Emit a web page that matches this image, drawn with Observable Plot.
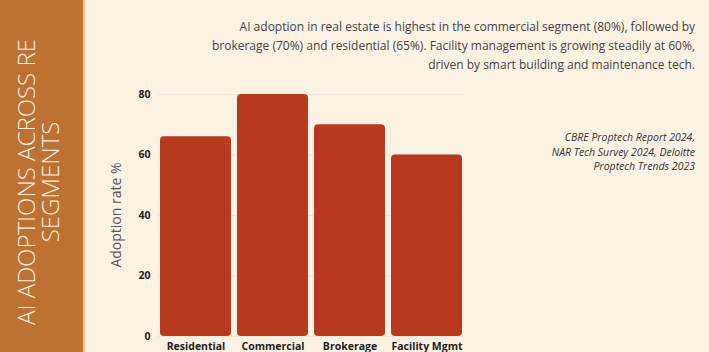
<!DOCTYPE html>
<html>
<head>
<meta charset="utf-8">
<script src="https://cdn.jsdelivr.net/npm/d3@7"></script>
<script src="https://cdn.jsdelivr.net/npm/@observablehq/plot@0.6"></script>
<style>
  html, body { margin: 0; padding: 0; }
  body { width: 709px; height: 352px; background: #fcf2e4; position: relative; overflow: hidden; font-family: "Open Sans", sans-serif; }
  #panel { position: absolute; left: 0; top: 0; width: 83px; height: 352px; background: #bd7234; border-right: 2px solid #e6c49a; }
  #title { position: absolute; left: 38px; top: 182px; transform: translate(-50%, -50%) rotate(-90deg); white-space: nowrap; text-align: center; color: #fbeee0; font-family: "Open Sans", sans-serif; font-weight: 300; font-size: 24px; line-height: 24px; }
  #subtitle { position: absolute; right: 14px; top: 17px; text-align: right; color: #444; font-size: 12px; line-height: 19px; }
  #source { position: absolute; right: 14px; top: 130px; text-align: right; color: #333; font-style: italic; font-size: 10.5px; line-height: 14.5px; }
  #chart { position: absolute; left: 0; top: 0; }
</style>
</head>
<body>
<div id="chart"></div>
<div id="panel"></div>
<div id="title">AI ADOPTIONS ACROSS RE<br>SEGMENTS</div>
<div id="subtitle">AI adoption in real estate is highest in the commercial segment (80%), followed by<br>brokerage (70%) and residential (65%). Facility management is growing steadily at 60%,<br>driven by smart building and maintenance tech.</div>
<div id="source">CBRE Proptech Report 2024,<br>NAR Tech Survey 2024, Deloitte<br>Proptech Trends 2023</div>
<script>
const segments = ["Residential", "Commercial", "Brokerage", "Facility Mgmt"];
const adoption = [66, 80, 70, 60];
const yTicks = [0, 20, 40, 60, 80];

const data = segments.map((s, i) => ({segment: s, value: adoption[i]}));

const chart = Plot.plot({
  width: 709,
  height: 352,
  marginLeft: 158,
  marginRight: 246,
  marginTop: 94,
  marginBottom: 16,
  style: {background: "transparent", fontFamily: "'Open Sans', sans-serif"},
  x: {domain: segments, paddingInner: 0.08, paddingOuter: 0, label: null},
  y: {domain: [0, 80], label: null},
  marks: [
    Plot.gridY(yTicks, {stroke: "#000", strokeOpacity: 0.05}),
    Plot.barY(data, {x: "segment", y: "value", fill: "#b73a1f", rx: 4}),
    Plot.axisY({ticks: yTicks, tickSize: 0, tickPadding: 8, fontWeight: "bold", fontSize: 10.5, color: "#222", label: null}),
    Plot.axisX({tickSize: 0, tickPadding: 6, fontWeight: "bold", fontSize: 10.5, color: "#222", label: null})
  ]
});
document.getElementById("chart").appendChild(chart);

// y axis label (real text, placed beside the axis)
const svg = d3.select(chart);
svg.append("text")
  .attr("transform", `translate(117, ${(94 + 336) / 2}) rotate(-90)`)
  .attr("text-anchor", "middle")
  .attr("dominant-baseline", "middle")
  .attr("fill", "#555")
  .style("font-size", "14px")
  .style("font-family", "'Open Sans', sans-serif")
  .text("Adoption rate %");
</script>
</body>
</html>
